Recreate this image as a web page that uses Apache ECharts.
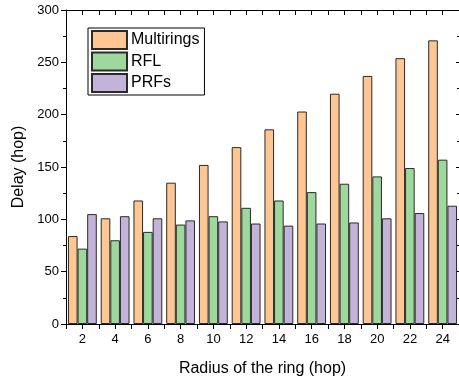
<!DOCTYPE html>
<html>
<head>
<meta charset="utf-8">
<script src="https://cdn.jsdelivr.net/npm/echarts@6/dist/echarts.min.js"></script>
<style>html,body{margin:0;padding:0;background:#fff}#c{width:459px;height:382px}</style>
</head>
<body>
<div id="c"></div>
<script>
const categories = ['2','4','6','8','10','12','14','16','18','20','22','24'];
const multirings = [84, 101, 118, 135, 152, 169, 186, 203, 220, 237, 254, 271];
const rfl = [72, 80, 88, 95, 103, 111, 118, 126, 134, 141, 149, 157];
const prfs = [105, 103, 101, 99, 98, 96, 94, 96, 97, 101, 106, 113];

const FONT = '"Liberation Sans", Arial, sans-serif';
const chart = echarts.init(document.getElementById('c'), null, {renderer: 'canvas'});
const lineStyle = {color: '#000', width: 1};
function xAx(pos, align, inside, show) {
  return {
    type: 'category', data: categories, position: pos, boundaryGap: true,
    axisLine: {show: show, lineStyle: lineStyle},
    axisTick: {show: true, alignWithLabel: align, inside: inside, length: 5, lineStyle: lineStyle},
    axisLabel: {show: false}, splitLine: {show: false}
  };
}
const xAxes = [
  {
    type: 'category', data: categories, position: 'bottom', boundaryGap: true,
    axisLine: {show: true, lineStyle: lineStyle},
    axisTick: {show: true, length: 5, lineStyle: lineStyle},
    axisLabel: {show: true, margin: 9, fontSize: 13, color: '#000', fontFamily: FONT},
    name: 'Radius of the ring (hop)', nameLocation: 'middle', nameGap: 37,
    nameTextStyle: {fontSize: 16, color: '#000', fontFamily: FONT},
    splitLine: {show: false}
  },
  xAx('bottom', true, false, false),
  xAx('top', false, true, true),
  xAx('top', true, true, false)
];
chart.setOption({
  animation: false,
  backgroundColor: '#fff',
  grid: {left: 66, top: 10, width: 394, height: 317, containLabel: false},
  legend: {
    orient: 'vertical', left: 88, top: 28,
    itemWidth: 35, itemHeight: 18, itemGap: 1.5,
    padding: [2, 5, 2, 3],
    borderColor: '#000', borderWidth: 1, backgroundColor: '#fff',
    textStyle: {fontSize: 16, color: '#000', fontFamily: FONT, padding: [0, 0, 0, -1]},
    icon: 'rect',
    data: ['Multirings', 'RFL', 'PRFs']
  },
  xAxis: xAxes,
  yAxis: [
    {
      type: 'value', min: 0, max: 300, interval: 50, position: 'left',
      axisLine: {show: true, lineStyle: lineStyle},
      axisTick: {show: true, length: 5, lineStyle: lineStyle},
      minorTick: {show: true, splitNumber: 2, length: 3, lineStyle: lineStyle},
      axisLabel: {margin: 7, fontSize: 13, color: '#000', fontFamily: FONT},
      splitLine: {show: false},
      name: 'Delay (hop)', nameLocation: 'middle', nameGap: 35,
      nameTextStyle: {fontSize: 16, color: '#000', fontFamily: FONT}
    },
    {
      type: 'value', min: 0, max: 300, interval: 50, position: 'right',
      axisLine: {show: true, lineStyle: lineStyle},
      axisTick: {show: true, inside: true, length: 3, lineStyle: lineStyle},
      minorTick: {show: true, splitNumber: 2, length: 2, lineStyle: lineStyle},
      axisLabel: {show: false}, splitLine: {show: false}
    }
  ],
  series: [
    {name: 'Multirings', type: 'bar', data: multirings, barGap: '0%', barCategoryGap: '12%',
     itemStyle: {color: '#FEC692', borderColor: '#2a2a2a', borderWidth: 1}},
    {name: 'RFL', type: 'bar', data: rfl, barGap: '0%', barCategoryGap: '12%',
     itemStyle: {color: '#9FD89D', borderColor: '#2a2a2a', borderWidth: 1}},
    {name: 'PRFs', type: 'bar', data: prfs, barGap: '0%', barCategoryGap: '12%',
     itemStyle: {color: '#C4B3D8', borderColor: '#2a2a2a', borderWidth: 1}}
  ]
});
</script>
</body>
</html>
